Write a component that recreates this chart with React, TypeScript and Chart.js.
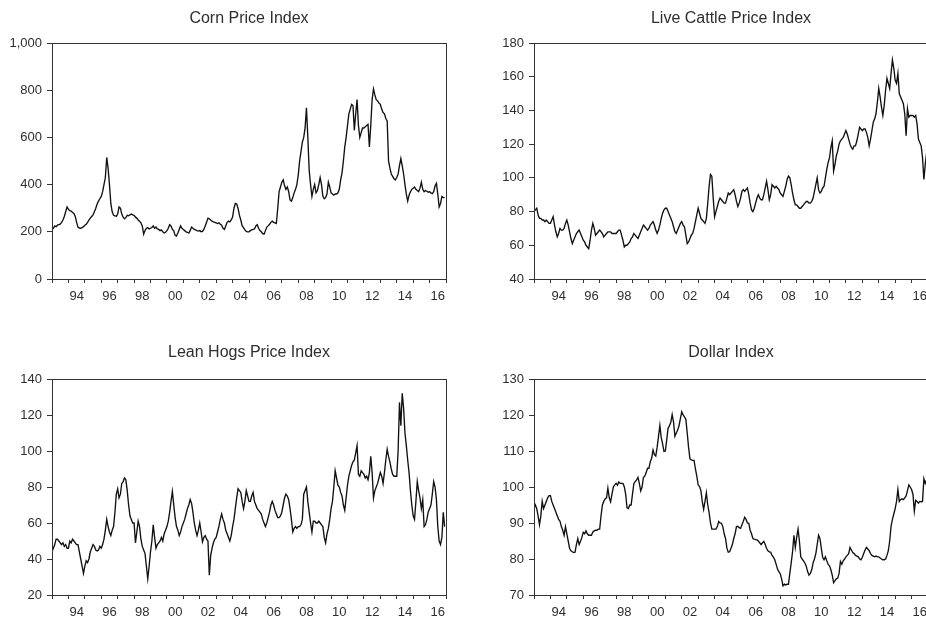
import React, { useEffect, useRef } from 'react';
import { Chart, registerables } from 'chart.js';

Chart.register(...registerables);

// Monthly observations, Jan 1993 .. Dec 2016
const START_YEAR = 1993;
const X_MIN = 1993;
const X_MAX = 2017;

const cornValues = [
  210, 215, 225, 222, 228, 230, 232, 240, 250, 265, 285, 305,
  295, 290, 288, 282, 278, 265, 240, 220, 216, 215, 218, 222,
  228, 232, 240, 250, 258, 265, 272, 285, 300, 318, 330, 340,
  350, 370, 400, 430, 515, 470, 400, 320, 285, 270, 268, 265,
  275, 305, 300, 275, 262, 255, 260, 270, 268, 272, 275, 272,
  270, 262, 258, 250, 245, 238, 225, 190, 205, 215, 218, 212,
  215, 218, 225, 215, 220, 212, 210, 205, 208, 200, 195, 198,
  205, 215, 230, 225, 210, 205, 185, 182, 195, 210, 225, 215,
  210, 205, 200, 198, 195, 205, 220, 215, 210, 208, 205, 203,
  205, 200, 202, 210, 225, 240, 258, 255, 250, 245, 242, 240,
  238, 235, 238, 232, 228, 215, 210, 225, 240, 245, 242, 250,
  262, 300, 320, 318, 300, 270, 250, 225, 218, 208, 202, 200,
  200, 205, 208, 210, 212, 225, 230, 215, 205, 200, 192, 190,
  205, 220, 225, 232, 240, 245, 240, 238, 235, 300, 370, 390,
  410, 420, 395, 380, 390, 370, 335, 330, 345, 365, 380, 400,
  440, 500, 540, 580, 600, 640, 725, 600, 460, 400, 350, 380,
  400, 365, 375, 400, 430, 400, 350, 340, 345, 360, 410, 390,
  365, 360, 355, 360, 360, 365, 380, 420, 450, 500, 560, 600,
  650, 700, 720, 740, 735, 630, 700, 760, 650, 600, 620, 640,
  640, 645, 650, 655, 560, 650, 760, 805, 780, 760, 755, 745,
  740, 720, 705, 700, 680, 670, 500, 470, 445, 435, 425, 420,
  430, 445, 480, 510, 480, 445, 400, 360, 330, 355, 370, 380,
  385, 390, 380, 375, 370, 385, 410, 380, 370, 375, 372, 368,
  370, 365, 362, 370, 395, 405, 360, 305, 320, 350, 345, 345,
];

const cattleValues = [
  80, 81, 82, 78, 76, 76, 75, 75, 74, 75, 74, 73,
  73, 75, 77, 72, 68, 65, 67, 70, 69, 69, 70, 73,
  75, 72, 68, 64, 61, 63, 65, 67, 68, 69, 67, 65,
  63, 62, 60, 59, 58, 63, 69, 73, 70, 66, 67, 68,
  69, 68, 67, 65, 66, 67, 68, 68, 68, 67, 67, 67,
  67, 68, 69, 69, 66, 63, 59, 60, 60, 61, 62, 64,
  65, 67, 66, 65, 64, 66, 68, 70, 72, 71, 70, 69,
  70, 72, 73, 74, 72, 69, 67, 69, 72, 76, 79, 81,
  82, 82, 80, 78, 76, 74, 71, 68, 67, 69, 71, 73,
  74, 72, 71, 66, 61, 62, 64, 66, 67, 70, 74, 78,
  82, 79, 76, 75, 74, 73, 76, 85, 95, 102, 101, 88,
  77, 80, 83, 86, 88, 87, 86, 85, 85, 88, 91, 90,
  91, 92, 93, 90, 86, 83, 85, 88, 92, 93, 92, 93,
  94, 90, 85, 81, 80, 82, 85, 88, 90, 88, 87, 87,
  90, 94, 98, 93, 87, 90, 96, 95, 94, 95, 94, 93,
  91, 90, 89, 92, 95, 99, 101, 100, 96, 91, 87, 84,
  84, 83, 82, 82, 83, 84, 85, 86, 86, 85, 85, 86,
  88, 92, 96, 100, 93, 91, 92, 94, 95, 100, 105, 109,
  112, 118, 122, 104, 108, 113, 116, 120, 122, 123, 124, 126,
  128, 126, 123, 120, 118, 117, 119, 119, 122, 126, 130, 129,
  128, 129, 129, 127, 124, 119, 123, 128, 133, 135, 138, 145,
  153, 148, 142, 137, 143, 152, 159, 156, 153, 162, 170, 165,
  158, 156, 162, 150, 148, 146, 144, 138, 125, 141, 136, 137,
  137, 137, 136, 137, 132, 123, 121, 119, 112, 99, 108, 115,
];

const hogsValues = [
  44, 46, 48, 51, 51, 50, 49, 48, 49, 47, 48, 46,
  46, 50, 49, 51, 50, 49, 48, 48, 44, 40, 36, 32,
  36, 39, 38, 40, 44, 46, 48, 47, 45, 44.5, 45, 47,
  46, 48, 51, 56, 62, 58, 55, 53, 56, 58, 66, 76,
  79, 74, 76, 82, 83, 85, 84, 78, 70, 64, 62, 60,
  60, 49, 55, 61, 58, 51, 47, 45, 43, 36, 29, 36,
  44, 50, 59, 52, 46, 48, 49, 50, 52, 50, 54, 56,
  58, 61, 66, 72, 77.5, 70, 63, 58, 56, 53, 55, 58,
  60, 62, 65, 68, 70, 73, 71, 66, 60, 56, 53, 56,
  60, 55, 49.5, 52, 53, 51, 50, 31, 42, 46, 49, 51,
  52, 55, 58, 62, 65, 62, 60, 56, 54, 52, 50, 53,
  58, 62, 68, 74, 79, 78, 77, 72, 68, 72, 78, 75,
  72, 72, 75, 77, 72, 70, 68, 67, 66, 65, 62, 60,
  58, 60, 63, 66, 70, 72, 70, 67, 65, 63, 63, 64,
  66, 70, 74, 76, 75, 73, 68, 62, 55, 57, 58, 57,
  58, 58, 59, 62, 76, 78, 80, 72, 66, 60, 55, 61,
  61, 60, 60, 61, 60, 59, 58, 52, 49, 54, 57, 62,
  68, 72, 80, 89, 85, 81, 80, 77, 75, 70, 67, 74,
  81, 86, 89, 92, 94, 95, 99, 103, 87, 86, 89, 88,
  87, 85, 86, 84, 88, 97, 88, 74, 78, 80, 82, 85,
  88, 86, 82, 88, 95, 101, 97, 94, 90, 87, 86, 86,
  86, 100, 127, 114, 132, 124, 110, 103, 95, 88, 78, 70,
  64, 62, 72, 83, 78, 74, 68, 73, 58, 59, 62, 66,
  68, 70, 76, 83, 80, 73, 58, 50, 48, 52, 66, 58,
];

const dollarValues = [
  94, 95, 94, 92, 89.5, 92, 96, 94, 95, 96, 97, 97.6,
  97.6, 96, 95, 94, 93, 92, 91, 90.5, 89, 88, 86.6, 89,
  87, 85, 83, 82.3, 82, 81.8, 81.9, 84, 85.7, 84, 84.9, 86,
  87.4, 87, 87.8, 87, 86.6, 86.6, 86.6, 87.5, 87.8, 88, 88, 88.3,
  88.3, 92, 95, 96, 96.7, 97, 99.7, 97, 95.9, 98, 100, 100.6,
  101, 100.5, 101.4, 101, 101, 101, 100.1, 98, 94.2, 94, 95, 95,
  98, 101, 101.5, 102, 102.7, 101, 98.9, 100, 102.7, 103, 104, 105.2,
  105.2, 107, 108, 110.3, 109, 108.6, 111, 114, 117.1, 113.7, 112, 109.9,
  110, 113, 116.3, 117, 118, 120.1, 118, 114.1, 115, 115.8, 117, 119,
  120.9, 120, 119.5, 118.8, 115, 111, 107.8, 107.5, 107.4, 107.4, 105, 103,
  100.6, 100.1, 99, 96, 93.8, 96, 98.4, 95, 92.9, 90, 88.3, 88.3,
  88.3, 88.3, 89, 90.4, 90, 89.9, 89, 87, 85.7, 83, 81.9, 82,
  83, 84, 85.7, 87, 89, 89.1, 88.7, 88.5, 89.5, 90.5, 91.6, 91,
  90, 89.9, 88, 87, 85.7, 85.5, 85.4, 85.3, 85, 84.5, 84, 84.5,
  84.9, 84, 83, 82.3, 82, 81.9, 81, 80.5, 79.8, 78.5, 77.2, 76.5,
  75.9, 74.5, 72.5, 73, 72.8, 73, 73, 76, 78.9, 82, 86.6, 83.2,
  86, 88.3, 85, 80.6, 80, 79.5, 78.9, 78, 76.5, 75.5, 76, 77,
  78.9, 80, 81.5, 84, 86.6, 85.7, 83, 80.5, 79.8, 80.6, 79.5, 78.5,
  78.1, 77, 75.5, 73.4, 74, 74.5, 74.7, 76, 79.3, 78.5, 79.5, 80,
  80.6, 81, 81.5, 83.2, 82.5, 81.8, 81.5, 81, 80.8, 80.6, 80, 79.8,
  80.5, 81.5, 82.5, 83.2, 82.8, 82.3, 81.5, 81, 80.8, 80.6, 80.8, 80.6,
  80.6, 80.3, 80, 79.8, 79.8, 80, 81, 82.3, 85, 89.1, 91, 92.5,
  94, 96, 99.3, 96, 96.5, 96.7, 96.5, 97, 97.5, 99, 100.6, 100,
  99.3, 98, 93.3, 96.3, 96, 95.5, 96, 95.9, 96, 102.3, 101, 102,
];

const titles = ['Corn Price Index', 'Live Cattle Price Index', 'Lean Hogs Price Index', 'Dollar Index'];
const yRanges = [
  { min: 0, max: 1000, step: 200 },
  { min: 40, max: 180, step: 20 },
  { min: 20, max: 140, step: 20 },
  { min: 70, max: 130, step: 10 },
];
const seriesList = [cornValues, cattleValues, hogsValues, dollarValues];

const FONT = '"Liberation Sans", Arial, Helvetica, sans-serif';
const TEXT = '#2e2e2e';
const LINE = '#333333';

type PanelBox = {
  left: number; top: number; width: number; height: number;
  padTop: number; padRight: number; yAxisW: number; xAxisH: number; titleY: number;
};

const boxes: PanelBox[] = [
  { left: 0, top: 0, width: 463, height: 320, padTop: 43, padRight: 17, yAxisW: 52, xAxisH: 41, titleY: 22.7 },
  { left: 463, top: 0, width: 480, height: 320, padTop: 43, padRight: 15, yAxisW: 71, xAxisH: 41, titleY: 22.7 },
  { left: 0, top: 320, width: 463, height: 320, padTop: 59, padRight: 17, yAxisW: 52, xAxisH: 45, titleY: 36.7 },
  { left: 463, top: 320, width: 480, height: 320, padTop: 59, padRight: 15, yAxisW: 71, xAxisH: 45, titleY: 36.7 },
];

function toPoints(values: number[]) {
  return values.map((v, i) => ({ x: START_YEAR + i / 12, y: v }));
}

function Panel({ idx }: { idx: number }) {
  const ref = useRef<HTMLCanvasElement | null>(null);
  const box = boxes[idx];
  useEffect(() => {
    if (!ref.current) return;
    const title = titles[idx];
    const yr = yRanges[idx];
    const pxPerYear = (box.width - box.padRight - box.yAxisW) / (X_MAX - X_MIN);
    const framePlugin = {
      id: 'frameAndTitle',
      afterDraw(chart: any) {
        const { ctx, chartArea } = chart;
        ctx.save();
        ctx.strokeStyle = LINE;
        ctx.lineWidth = 1;
        const l = Math.round(chartArea.left) + 0.5;
        const t = Math.round(chartArea.top) + 0.5;
        const r = Math.round(chartArea.right) + 0.5;
        const b = Math.round(chartArea.bottom) + 0.5;
        ctx.strokeRect(l, t, r - l, b - t);
        ctx.fillStyle = TEXT;
        ctx.font = `16px ${FONT}`;
        ctx.textAlign = 'center';
        ctx.textBaseline = 'alphabetic';
        ctx.fillText(title, (chartArea.left + chartArea.right) / 2, box.titleY);
        ctx.restore();
      },
    };
    const chart = new Chart(ref.current, {
      type: 'line',
      data: {
        datasets: [
          {
            data: toPoints(seriesList[idx]),
            borderColor: '#111111',
            borderWidth: 1.35,
            pointRadius: 0,
            tension: 0,
            fill: false,
          },
        ],
      },
      options: {
        responsive: false,
        animation: false,
        events: [],
        layout: { padding: { top: box.padTop, right: box.padRight, left: 0, bottom: 0 } },
        plugins: { legend: { display: false }, title: { display: false }, tooltip: { enabled: false } },
        scales: {
          x: {
            type: 'linear',
            min: X_MIN,
            max: X_MAX,
            afterFit: (s: any) => { s.height = box.xAxisH; },
            border: { display: false },
            grid: { display: true, drawOnChartArea: false, drawTicks: true, tickLength: 4, color: LINE, lineWidth: 1 },
            ticks: {
              stepSize: 1,
              autoSkip: false,
              maxRotation: 0,
              minRotation: 0,
              padding: 6,
              labelOffset: pxPerYear / 2,
              color: TEXT,
              font: { family: FONT, size: 13 },
              callback: (v: any) => {
                const n = Math.round(Number(v));
                if (n >= X_MAX || n % 2 !== 0) return '';
                return String(n).slice(2);
              },
            },
          },
          y: {
            type: 'linear',
            min: yr.min,
            max: yr.max,
            afterFit: (s: any) => { s.width = box.yAxisW; },
            border: { display: false },
            grid: { display: true, drawOnChartArea: false, drawTicks: true, tickLength: 5, color: LINE, lineWidth: 1 },
            ticks: {
              stepSize: yr.step,
              padding: 5,
              color: TEXT,
              font: { family: FONT, size: 13 },
              callback: (v: any) => Number(v).toLocaleString('en-US'),
            },
          },
        },
      },
      plugins: [framePlugin],
    });
    return () => chart.destroy();
  }, [idx]);
  return (
    <canvas
      ref={ref}
      width={box.width}
      height={box.height}
      style={{ position: 'absolute', left: box.left, top: box.top, width: box.width, height: box.height }}
    />
  );
}

export default function App() {
  return (
    <div
      style={{
        position: 'absolute',
        left: 0,
        top: 0,
        width: 926,
        height: 639,
        overflow: 'hidden',
        background: '#ffffff',
      }}
    >
      {[0, 1, 2, 3].map((i) => (
        <Panel key={i} idx={i} />
      ))}
    </div>
  );
}
